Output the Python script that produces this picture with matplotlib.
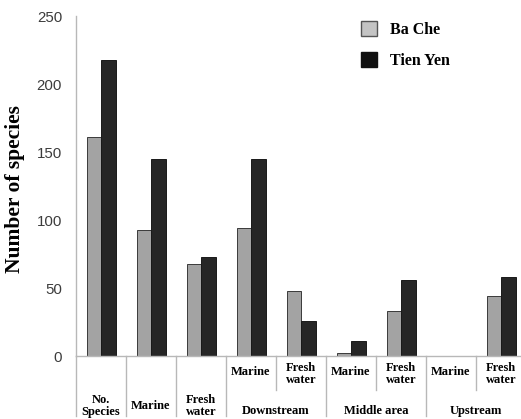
import matplotlib.pyplot as plt
from matplotlib.patches import Patch

FIGSIZE = (5.21, 4.19)
LIGHT = "#a3a3a3"
DARK = "#262626"
GRID = "#b8b8b8"
SERIF = "Liberation Serif"

# first-level category labels, one per bar pair
categories = ["No.\nSpecies", "Marine", "Fresh\nwater",
              "Marine", "Fresh\nwater",
              "Marine", "Fresh\nwater",
              "Marine", "Fresh\nwater"]
# zones grouping the last six categories
groups = ["Downstream", "Middle area", "Upstream"]
ba_che = [161, 93, 68, 94, 48, 2, 33, 0, 44]
tien_yen = [218, 145, 73, 145, 26, 11, 56, 0, 58]
yticks = [0, 50, 100, 150, 200, 250]


def draw_chart():
    fig = plt.figure(figsize=FIGSIZE, dpi=100)
    ax = fig.add_axes([76 / 521, 1 - 356 / 419, 1 - 76 / 521, 340 / 419])

    n = len(categories)
    x = [i + 0.5 for i in range(n)]
    w = 0.29
    ax.bar([v - w / 2 for v in x], ba_che, width=w, color=LIGHT,
           edgecolor="#3a3a3a", linewidth=0.7, label="Ba Che")
    ax.bar([v + w / 2 for v in x], tien_yen, width=w, color=DARK,
           edgecolor="#1a1a1a", linewidth=0.7, label="Tien Yen")

    ax.set_xlim(0, 8.9)
    ax.set_ylim(0, 250)
    ax.set_yticks(yticks)
    ax.set_xticks([])
    ax.tick_params(axis="y", length=0, pad=10, labelsize=10.8,
                   labelcolor="#3c3c3c")
    for lab in ax.get_yticklabels():
        lab.set_family("Liberation Sans")

    for side in ["top", "right"]:
        ax.spines[side].set_visible(False)
    for side in ["left", "bottom"]:
        ax.spines[side].set_color(GRID)
        ax.spines[side].set_linewidth(1.0)

    ax.set_ylabel("Number of species", family=SERIF, fontweight="bold",
                  fontsize=15.5)
    ax.yaxis.set_label_coords(-51 / 445, 0.49)

    # category table under the axis
    tr = ax.get_xaxis_transform()
    full_depth = -60 / 340
    short_depth = -34 / 340
    for i in range(n + 1):
        depth = full_depth if (i <= 3 or i % 2 == 1) else short_depth
        ax.plot([i, i], [0, depth], transform=tr, color=GRID, lw=1.0,
                clip_on=False)

    for i, label in enumerate(categories):
        if i < 3:
            yy = -50 / 340
        elif "\n" in label:
            yy = -18 / 340
        else:
            yy = -16 / 340
        ax.text(x[i], yy, label, transform=tr, ha="center", va="center",
                family=SERIF, fontweight="bold", fontsize=9,
                linespacing=1.0)

    for g, name in enumerate(groups):
        ax.text(4 + 2 * g, -55 / 340, name, transform=tr, ha="center",
                va="center", family=SERIF, fontweight="bold", fontsize=9)

    handles = [Patch(facecolor="#c4c4c4", edgecolor="#555555", lw=1.0),
               Patch(facecolor="#101010", edgecolor="#101010", lw=1.0)]
    fig.legend(handles, ["Ba Che", "Tien Yen"], loc="upper left",
               bbox_to_anchor=(347 / 521, 1 - 7 / 419), frameon=False,
               prop={"family": SERIF, "weight": "bold", "size": 11.5},
               handlelength=1.0, handleheight=1.0, handletextpad=0.8,
               labelspacing=0.9)

    fig.savefig("out.png", dpi=100)


draw_chart()
